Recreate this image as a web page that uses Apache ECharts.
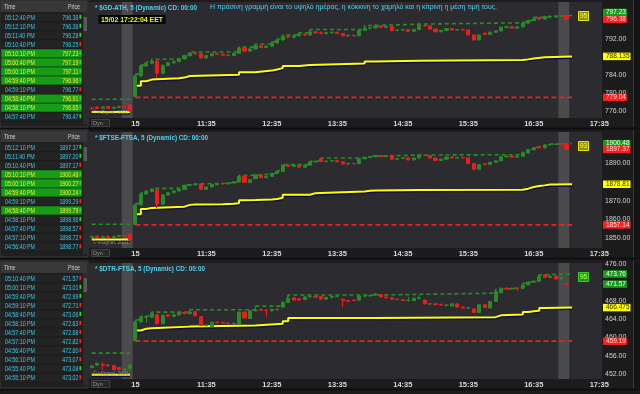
<!DOCTYPE html>
<html><head><meta charset="utf-8">
<script src="https://cdn.jsdelivr.net/npm/echarts@6/dist/echarts.min.js"></script>
<style>html,body{margin:0;padding:0;background:#1c1c1c;}#c{width:640px;height:394px;}</style>
</head><body><div id="c"></div>
<script>
// ---------- categories (5-minute bars) ----------
const catsPrev = ["14 16:30","14 16:35","14 16:40","14 16:45","14 16:50","14 16:55","14 17:00","14 17:05"];
const catsToday = [];
for (let m = 10*60+30; m <= 17*60+35; m += 5) catsToday.push(String(Math.floor(m/60)).padStart(2,'0')+':'+String(m%60).padStart(2,'0'));
const categories = catsPrev.concat(catsToday);
const xTickCats   = ["10:30","11:35","12:35","13:35","14:35","15:35","16:35","17:35"];
const xTickLabels = ["15","11:35","12:35","13:35","14:35","15:35","16:35","17:35"];
const bandSlots = ["14 17:00","14 17:05","17:00","17:05"];

// ---------- $GD-ATH : [open, high, low, close] ----------
const gdPrev = [[776.6,776.9,776.3,776.5],[776.9,777.0,776.4,776.6],[776.6,777.0,776.5,776.9],[777.0,777.1,776.5,776.6],[776.6,777.0,776.5,776.8],[776.8,777.2,776.6,777.0],[777.0,777.1,776.8,776.9],[777.3,777.4,775.8,776.0]];
const gdToday = [
[779.2,784.2,779.04,783.8],[783.8,786.2,783.6,786.0],[786.0,786.9,785.8,786.6],[786.6,787.5,786.4,787.1],[787.1,787.3,783.4,784.4],
[784.4,786.4,784.2,786.1],[786.1,786.9,785.9,786.7],[786.7,787.3,786.5,787.0],[787.0,787.8,786.8,787.6],[787.6,788.5,787.4,788.3],
[788.3,789.1,788.1,788.9],[788.9,789.0,788.5,788.7],[788.7,788.8,787.6,787.8],[787.8,788.5,787.7,788.3],[788.3,788.9,788.1,788.7],
[788.7,788.9,788.4,788.6],[788.6,788.8,788.3,788.4],[788.4,788.7,788.2,788.3],[788.3,788.9,788.2,788.8],[788.8,790.2,788.7,790.0],
[790.0,790.1,789.1,789.3],[789.3,790.0,789.2,789.8],[789.8,790.9,789.7,790.5],[790.5,790.7,790.0,790.1],[790.1,790.6,790.0,790.4],
[790.4,791.4,790.3,791.1],[791.1,792.0,791.0,791.8],[791.8,792.9,791.6,792.6],[792.6,792.8,792.1,792.4],[792.4,792.9,792.2,792.7],
[792.7,793.4,792.5,793.1],[793.1,793.3,792.7,792.9],[792.9,794.1,792.8,793.6],[793.6,793.9,793.2,793.4],[793.4,793.7,793.0,793.2],
[793.2,793.6,793.0,793.4],[793.4,793.7,793.2,793.5],[793.5,793.6,793.1,793.2],[793.2,793.4,792.6,792.7],[792.7,793.0,792.5,792.8],
[792.8,793.0,792.6,792.7],[792.7,794.0,792.6,793.9],[793.9,795.0,793.8,794.4],[794.4,794.7,794.1,794.5],[794.5,795.3,794.3,794.9],
[794.9,795.0,794.4,794.6],[794.6,795.0,794.5,794.8],[794.8,794.9,793.7,793.9],[793.9,794.2,793.7,794.0],[794.0,794.3,793.8,794.1],
[794.1,794.2,793.5,793.7],[793.7,794.3,793.6,794.1],[794.1,795.6,794.0,795.0],[795.0,795.2,794.7,794.9],[794.9,795.0,794.0,794.2],
[794.2,794.4,793.4,793.6],[793.6,794.0,793.5,793.9],[793.9,794.4,793.7,794.3],[794.3,794.5,793.9,794.0],[794.0,794.2,793.8,794.1],
[794.1,794.3,793.9,794.0],[794.0,794.1,792.8,792.9],[792.9,793.0,791.6,791.8],[791.8,793.0,791.7,792.9],[793.3,793.5,792.9,793.0],
[793.0,793.7,792.9,793.5],[793.5,793.9,793.4,793.8],[793.8,794.8,793.7,794.6],[794.6,794.9,794.4,794.7],[794.7,794.9,794.3,794.4],
[794.4,794.8,794.3,794.7],[794.7,795.9,794.6,795.5],[795.5,796.3,795.4,796.1],[796.1,796.8,796.0,796.5],[796.8,796.8,796.3,796.4],
[796.4,797.23,796.3,797.0],[797.0,797.2,796.8,797.1],[797.1,797.2,796.9,797.1],[797.1,797.2,797.0,797.2],[797.2,797.2,796.3,796.38]];
const gdHighSteps = [["10:30",784.2],["10:35",786.2],["10:40",786.9],["10:45",787.5],["11:10",787.8],["11:15",788.5],["11:20",789.1],["12:05",790.2],["12:20",790.9],["12:35",791.4],["12:40",792.0],["12:45",792.9],["13:00",793.4],["13:10",794.1],["14:00",795.0],["14:10",795.3],["14:50",795.6],["16:25",795.9],["16:30",796.3],["16:35",796.8],["16:45",797.23],["17:10",797.23]];
const gdMidSteps  = [["10:30",781.62],["10:35",782.62],["10:40",782.97],["10:45",783.27],["11:10",783.42],["11:15",783.77],["11:20",784.07],["12:05",784.62],["12:20",784.97],["12:35",785.22],["12:40",785.52],["12:45",785.97],["13:00",786.22],["13:10",786.57],["14:00",787.02],["14:10",787.17],["14:50",787.32],["16:25",787.47],["16:30",787.67],["16:35",787.92],["16:45",788.135],["17:10",788.135]];
const gdLowSteps  = [["10:30",779.04],["17:10",779.04]];
const gdPrevHighSteps = [["14 16:30",778.6],["14 17:05",778.6]];
const gdPrevMidSteps  = [["14 16:30",775.8],["14 17:05",775.8]];
const gdTags = [[797.23,"797.23","high"],[796.38,"796.38","lastDown"],[788.135,"788.135","mid"],[779.04,"779.04","low"]];
const gdAxisLabels = [776,780,784,792];

// ---------- $FTSE-FTSA ----------
const fsPrev = [[1850.5,1851.5,1850.0,1851.0],[1851.2,1851.6,1850.2,1850.5],[1850.5,1851.3,1850.2,1851.0],[1851.0,1851.5,1850.0,1850.3],[1850.3,1851.2,1850.0,1851.0],[1851.0,1851.8,1850.7,1851.5],[1851.5,1851.9,1851.0,1851.3],[1852.0,1852.2,1848.8,1849.2]];
const fsToday = [
[1857.4,1868.5,1857.14,1867.8],[1867.8,1874.2,1867.5,1873.6],[1873.6,1875.3,1873.2,1874.9],[1874.9,1876.6,1874.5,1876.1],[1875.8,1876.0,1866.0,1868.3],
[1868.3,1873.5,1867.8,1873.1],[1873.1,1874.6,1872.8,1874.3],[1874.3,1875.6,1874.0,1875.2],[1875.2,1876.4,1874.9,1876.0],[1876.0,1878.5,1875.8,1878.3],
[1878.3,1878.9,1877.8,1878.6],[1878.6,1879.0,1878.0,1878.9],[1879.0,1879.2,1875.9,1876.1],[1876.1,1877.6,1875.8,1877.4],[1877.4,1878.8,1877.2,1878.6],
[1878.6,1879.1,1878.3,1878.9],[1879.3,1879.5,1878.8,1879.0],[1879.0,1879.7,1878.8,1879.5],[1879.5,1880.3,1879.3,1880.1],[1880.1,1883.5,1879.9,1882.9],
[1883.2,1883.7,1879.5,1879.8],[1879.8,1881.6,1879.6,1881.2],[1881.8,1884.2,1881.5,1883.8],[1883.8,1884.0,1882.0,1882.3],[1882.3,1883.2,1882.0,1883.0],
[1883.0,1884.8,1882.8,1884.6],[1884.6,1886.0,1884.4,1885.7],[1885.7,1889.3,1885.5,1889.1],[1889.1,1889.3,1888.0,1888.3],[1888.3,1889.0,1888.0,1888.8],
[1888.8,1889.2,1887.6,1887.9],[1887.9,1889.2,1887.7,1889.0],[1889.0,1891.0,1888.8,1890.8],[1890.8,1891.3,1890.3,1891.0],[1892.4,1892.8,1890.7,1890.9],
[1890.9,1891.5,1890.6,1891.2],[1891.2,1891.8,1890.8,1891.5],[1891.5,1891.7,1890.6,1890.8],[1890.8,1891.0,1889.4,1889.6],[1889.6,1890.2,1889.3,1889.9],
[1889.9,1890.3,1889.5,1889.8],[1889.8,1892.6,1889.6,1892.4],[1892.4,1893.5,1892.2,1893.2],[1893.2,1893.8,1892.8,1893.5],[1893.5,1894.4,1893.2,1894.1],
[1894.1,1894.3,1893.3,1893.5],[1893.5,1894.2,1893.3,1894.0],[1894.0,1894.1,1891.9,1892.2],[1892.2,1892.8,1892.0,1892.6],[1892.6,1893.1,1892.3,1892.9],
[1892.9,1893.0,1891.6,1891.8],[1891.8,1893.0,1891.6,1892.8],[1892.8,1894.6,1892.6,1894.3],[1894.3,1894.6,1893.8,1894.1],[1894.1,1894.2,1892.6,1892.8],
[1892.8,1893.0,1891.2,1891.5],[1891.5,1892.4,1891.3,1892.2],[1892.2,1893.5,1892.0,1893.3],[1893.3,1893.6,1892.5,1892.8],[1892.8,1893.3,1892.5,1893.1],
[1893.1,1893.5,1892.7,1892.9],[1892.9,1893.0,1889.6,1889.9],[1889.9,1890.1,1886.4,1886.8],[1886.8,1889.5,1886.6,1889.3],[1889.8,1890.1,1889.0,1889.3],
[1889.3,1890.8,1889.1,1890.5],[1890.5,1891.5,1890.3,1891.3],[1891.3,1893.8,1891.1,1893.5],[1893.5,1894.2,1893.2,1893.9],[1893.9,1894.2,1893.0,1893.2],
[1893.2,1894.0,1893.0,1893.8],[1893.8,1895.8,1893.6,1895.5],[1895.5,1897.5,1895.3,1897.2],[1897.2,1898.6,1897.0,1898.3],[1899.0,1899.3,1897.9,1898.2],
[1898.2,1900.2,1898.0,1899.8],[1899.8,1900.3,1899.4,1900.1],[1900.1,1900.48,1899.7,1900.3],[1900.3,1900.4,1900.0,1900.27],[1900.3,1900.3,1897.1,1897.37]];
const fsHighSteps = [["10:30",1868.5],["10:35",1874.2],["10:40",1875.3],["10:45",1876.6],["11:15",1878.5],["11:20",1878.9],["11:25",1879.0],["11:30",1879.2],["11:50",1879.5],["11:55",1879.7],["12:00",1880.3],["12:05",1883.5],["12:10",1883.7],["12:20",1884.2],["12:35",1884.8],["12:40",1886.0],["12:45",1889.3],["13:10",1891.0],["13:15",1891.3],["13:20",1892.8],["14:00",1893.5],["14:05",1893.8],["14:10",1894.4],["14:50",1894.6],["16:25",1895.8],["16:30",1897.5],["16:35",1898.6],["16:40",1899.3],["16:45",1900.2],["16:50",1900.3],["16:55",1900.48],["17:10",1900.48]];
const fsMidSteps  = [["10:30",1862.82],["10:35",1865.67],["10:40",1866.22],["10:45",1866.87],["11:15",1867.82],["11:20",1868.02],["11:25",1868.07],["11:30",1868.17],["11:50",1868.32],["11:55",1868.42],["12:00",1868.72],["12:05",1870.32],["12:10",1870.42],["12:20",1870.67],["12:35",1870.97],["12:40",1871.57],["12:45",1873.22],["13:10",1874.07],["13:15",1874.22],["13:20",1874.97],["14:00",1875.32],["14:05",1875.47],["14:10",1875.77],["14:50",1875.87],["16:25",1876.47],["16:30",1877.32],["16:35",1877.87],["16:40",1878.22],["16:45",1878.67],["16:50",1878.72],["16:55",1878.81],["17:10",1878.81]];
const fsLowSteps  = [["10:30",1857.14],["17:10",1857.14]];
const fsPrevHighSteps = [["14 16:30",1857.5],["14 17:05",1857.5]];
const fsPrevMidSteps  = [["14 16:30",1849.4],["14 17:05",1849.4]];
const fsTags = [[1900.48,"1900.48","high"],[1897.37,"1897.37","lastDown"],[1878.81,"1878.81","mid"],[1857.14,"1857.14","low"]];
const fsAxisLabels = [1850,1860,1870,1890];

// ---------- $DTR-FTSA ----------
const dtPrev = [[453.5,454.0,453.3,453.8],[454.0,454.5,453.8,454.4],[454.2,454.6,453.0,454.0],[454.0,454.3,453.6,453.9],[453.9,454.0,452.8,453.0],[453.5,453.6,452.9,453.0],[453.0,453.3,452.8,453.1],[453.3,454.2,453.1,454.0]];
const dtToday = [
[459.3,463.8,459.19,463.4],[463.4,464.6,463.2,464.4],[464.4,464.8,463.2,464.5],[464.4,465.5,464.2,465.3],[464.9,465.0,462.6,463.0],
[463.0,465.0,462.9,464.8],[464.9,465.0,464.5,464.6],[464.6,465.2,464.4,464.9],[464.9,465.5,464.7,465.4],[465.4,465.5,465.0,465.2],
[465.2,466.0,465.0,465.5],[465.6,465.7,464.6,464.7],[464.5,464.6,462.5,462.6],[462.6,462.9,462.4,462.7],[462.3,463.4,462.2,463.3],
[463.3,463.5,463.0,463.2],[463.3,463.4,463.0,463.1],[463.1,463.3,462.9,463.0],[463.0,463.2,462.8,463.1],[462.8,465.6,462.7,465.5],
[465.5,465.7,464.1,464.2],[464.1,466.0,464.0,465.8],[465.8,466.8,465.6,465.9],[466.1,466.2,465.8,465.9],[465.9,466.2,464.5,465.8],
[465.8,466.3,465.6,466.1],[466.1,466.4,465.8,466.0],[466.6,467.8,466.4,467.6],[467.6,469.2,467.5,468.5],[468.6,468.7,468.0,468.1],
[468.4,468.5,467.9,468.1],[468.2,468.9,468.1,468.8],[468.8,469.1,468.6,468.9],[468.9,469.0,468.6,468.7],[468.9,469.0,468.2,468.3],
[468.3,468.8,468.2,468.7],[468.7,469.0,468.5,468.9],[468.9,469.1,468.7,468.9],[468.3,468.4,466.6,468.0],[468.0,468.1,467.7,467.8],
[468.1,468.2,467.9,468.0],[468.1,469.1,468.0,469.0],[469.0,469.2,468.7,469.0],[469.0,469.2,468.8,469.1],[469.2,469.6,469.0,469.4],
[469.3,469.4,468.7,468.8],[468.8,468.9,468.4,468.6],[468.6,468.7,468.2,468.3],[468.3,468.4,468.1,468.2],[468.2,468.3,467.9,468.0],
[468.0,468.8,467.8,468.1],[468.0,468.6,467.9,468.5],[468.5,469.1,468.3,468.6],[468.1,468.2,467.2,467.3],[467.3,467.5,467.1,467.3],
[467.3,467.4,467.0,467.1],[467.2,467.3,466.9,467.0],[467.0,467.2,466.8,467.0],[466.8,467.4,466.7,467.3],[467.3,467.4,466.5,466.6],
[466.6,466.7,466.3,466.4],[466.4,466.6,466.2,466.4],[466.2,466.3,465.3,465.4],[465.4,467.2,465.3,467.1],[467.1,467.2,466.4,466.5],
[466.4,467.9,466.3,467.8],[467.8,470.4,467.7,469.9],[469.7,470.8,469.6,470.7],[470.7,470.8,470.4,470.5],[470.5,470.8,470.4,470.7],
[470.7,470.8,470.0,470.6],[470.7,471.8,470.6,471.4],[471.4,472.2,471.3,472.0],[472.0,472.4,471.8,472.2],[472.2,473.6,472.1,473.2],
[473.6,473.76,472.9,473.0],[473.0,473.6,472.9,473.3],[473.3,473.4,472.6,472.7],[472.7,473.1,472.6,473.01],[471.57,471.6,471.55,471.57]];
const dtHighSteps = [["10:30",463.8],["10:35",464.6],["10:40",464.8],["10:45",465.5],["11:20",466.0],["12:20",466.8],["12:45",467.8],["12:50",469.2],["14:10",469.6],["16:00",470.4],["16:05",470.8],["16:25",471.8],["16:30",472.2],["16:35",472.4],["16:40",473.6],["16:45",473.76],["17:10",473.76]];
const dtMidSteps  = [["10:30",461.5],["10:35",461.9],["10:40",462.0],["10:45",462.35],["11:20",462.6],["12:20",463.0],["12:45",463.5],["12:50",464.2],["14:10",464.4],["16:00",464.8],["16:05",465.0],["16:25",465.5],["16:30",465.7],["16:35",465.8],["16:40",466.4],["16:45",466.475],["17:10",466.475]];
const dtLowSteps  = [["10:30",459.19],["17:10",459.19]];
const dtPrevHighSteps = [["14 16:30",456.6],["14 17:05",456.6]];
const dtPrevMidSteps  = [["14 16:30",451.9],["14 17:05",451.9]];
const dtTags = [[473.76,"473.76","high"],[471.57,"471.57","lastUp"],[466.475,"466.475","mid"],[459.19,"459.19","low"]];
const dtAxisLabels = [452,456,460,464,468,476];

// ---------- tick tables ----------
const t1Times  = ["05:12:40 PM","05:12:10 PM","05:11:40 PM","05:10:40 PM","05:10:10 PM","05:00:40 PM","05:00:10 PM","04:59:40 PM","04:59:10 PM","04:58:40 PM","04:58:10 PM","04:57:40 PM"];
const t1Prices = ["796.38","796.36","796.28","796.25","797.23","797.19","797.11","796.96","796.77","796.91","796.65","796.47"];
const t1Up     = [1,1,1,0,1,1,1,1,0,1,1,1];
const t1Hi     = [0,0,0,0,1,1,1,1,0,1,1,0];
const t2Times  = ["05:12:10 PM","05:11:40 PM","05:10:40 PM","05:10:10 PM","05:00:10 PM","04:59:40 PM","04:59:10 PM","04:58:40 PM","04:58:10 PM","04:57:40 PM","04:57:10 PM","04:56:40 PM"];
const t2Prices = ["1897.37","1897.20","1897.17","1900.48","1900.27","1900.24","1899.29","1899.79","1898.96","1898.57","1898.72","1898.77"];
const t2Up     = [1,1,0,1,1,1,0,1,1,0,0,0];
const t2Hi     = [0,0,0,1,1,1,0,1,0,0,0,0];
const t3Times  = ["05:10:40 PM","05:00:10 PM","04:59:40 PM","04:59:10 PM","04:58:40 PM","04:58:10 PM","04:57:40 PM","04:57:10 PM","04:56:40 PM","04:56:10 PM","04:55:40 PM","04:55:10 PM"];
const t3Prices = ["471.57","473.01","472.99","472.71","473.06","472.63","472.68","472.82","472.60","473.07","473.08","473.02"];
const t3Up     = [0,1,1,0,1,0,0,0,0,0,1,0];
const t3Hi     = [0,0,0,0,0,0,0,0,0,0,0,0];

const headers = ["* $GD-ATH, 5 (Dynamic) CD: 00:00","* $FTSE-FTSA, 5 (Dynamic) CD: 00:00","* $DTR-FTSA, 5 (Dynamic) CD: 00:00"];
const noteText = "Η πράσινη γραμμή είναι το υψηλό ημέρας, η κόκκινη το χαμηλό και η κίτρινη η μέση τιμή τους.";
const clockText = "15/02 17:22:04 EET";
const badges = ["95","93","95"];

// ---------- layout / style ----------
const PANEL_TOPS = [0, 130, 261];
const GRID_LEFT = 89, GRID_W = 513, GRID_H = 116;
const FONT = "'Liberation Sans', Arial, sans-serif";
const TAG_STYLE = {
  high:     {backgroundColor:'#1e9a1e', color:'#e8ffe8'},
  lastUp:   {backgroundColor:'#1e9a1e', color:'#e8ffe8'},
  lastDown: {backgroundColor:'#ff1c1c', color:'#ffe0e0'},
  mid:      {backgroundColor:'#ffff00', color:'#303000'},
  low:      {backgroundColor:'#ff1c1c', color:'#ffe0e0'}
};
// panel 1: the platform lifts the high tag so it does not hide under the last-price tag
const TAG_NUDGE = [{high:[0,-3]}, {}, {}];

const panels = [
  {prev:gdPrev, today:gdToday, hi:gdHighSteps, mid:gdMidSteps, lo:gdLowSteps, pHi:gdPrevHighSteps, pMid:gdPrevMidSteps, tags:gdTags, labels:gdAxisLabels, yMin:774.44, yMax:800.22,
   tTimes:t1Times, tPrices:t1Prices, tUp:t1Up, tHi:t1Hi},
  {prev:fsPrev, today:fsToday, hi:fsHighSteps, mid:fsMidSteps, lo:fsLowSteps, pHi:fsPrevHighSteps, pMid:fsPrevMidSteps, tags:fsTags, labels:fsAxisLabels, yMin:1844.82, yMax:1906.69,
   tTimes:t2Times, tPrices:t2Prices, tUp:t2Up, tHi:t2Hi},
  {prev:dtPrev, today:dtToday, hi:dtHighSteps, mid:dtMidSteps, lo:dtLowSteps, pHi:dtPrevHighSteps, pMid:dtPrevMidSteps, tags:dtTags, labels:dtAxisLabels, yMin:450.99, yMax:476.15,
   tTimes:t3Times, tPrices:t3Prices, tUp:t3Up, tHi:t3Hi}
];

function stepData(steps){ return steps.map(s => [categories.indexOf(s[0]), s[1]]); }
function candleData(prev, today){ return prev.concat(today).map(d => [d[0], d[3], d[2], d[1]]); }

const mctx = document.createElement('canvas').getContext('2d');
function fitScale(text, size, weight, target){ mctx.font = weight+' '+size+'px '+FONT; return target / mctx.measureText(text).width; }

const YELLOW = {color:'#ffff00', width:2, shadowColor:'#0c0c58', shadowOffsetY:1.5, shadowBlur:0.5};
const series = [];
const grids = [], xAxes = [], yAxes = [];
panels.forEach((p, i) => {
  const top = PANEL_TOPS[i];
  grids.push({left:GRID_LEFT, top:top+2, width:GRID_W, height:GRID_H, show:true, backgroundColor:'#2c2c30', borderWidth:0});
  xAxes.push({type:'category', gridIndex:i, data:categories, boundaryGap:true,
    axisLine:{show:false}, axisTick:{show:false}, splitLine:{show:false},
    axisLabel:{interval:(idx,val)=>xTickCats.indexOf(val)>=0, formatter:v=>xTickLabels[xTickCats.indexOf(v)],
      color:'#d6d6d6', fontSize:7.5, fontFamily:FONT, fontWeight:'bold', margin:2}});
  yAxes.push({type:'value', gridIndex:i, position:'right', min:p.yMin, max:p.yMax,
    axisLine:{show:false}, axisTick:{show:false}, splitLine:{show:false},
    axisLabel:{customValues:p.labels, formatter:v=>v.toFixed(2), color:'#d0d0d0', fontSize:7, fontFamily:FONT, margin:3}});
  const ax = {xAxisIndex:i, yAxisIndex:i};
  series.push(Object.assign({type:'bar', silent:true, barWidth:'100%', z:1,
    data:categories.map(c => bandSlots.indexOf(c)>=0 ? p.yMax : '-'),
    itemStyle:{color:'rgba(150,150,150,0.30)'}}, ax));
  series.push(Object.assign({type:'line', step:'end', symbol:'none', silent:true, z:3, data:stepData(p.pHi),
    lineStyle:{color:'#239023', width:1.6, type:[4,3]}}, ax));
  series.push(Object.assign({type:'line', step:'end', symbol:'none', silent:true, z:3, data:stepData(p.pMid),
    lineStyle:YELLOW}, ax));
  series.push(Object.assign({type:'line', step:'end', symbol:'none', silent:true, z:3, data:stepData(p.hi),
    lineStyle:{color:'#239023', width:1.6, type:[4,3]}}, ax));
  series.push(Object.assign({type:'line', step:'end', symbol:'none', silent:true, z:3, data:stepData(p.mid),
    lineStyle:YELLOW}, ax));
  series.push(Object.assign({type:'candlestick', silent:true, z:4, barWidth:3.6, data:candleData(p.prev, p.today),
    itemStyle:{color:'#2a8a2a', color0:'#ee1c1c', borderColor:'#2a8a2a', borderColor0:'#ee1c1c', borderWidth:1}}, ax));
  // low line carries the price tags (not clipped so the tags can sit on the price scale)
  series.push(Object.assign({type:'line', step:'end', symbol:'none', silent:true, z:5, clip:false, data:stepData(p.lo),
    lineStyle:{color:'#ee2020', width:1.8, type:[5,3]},
    markLine:{silent:true, symbol:['none','none'], animation:false, precision:3,
      lineStyle:{color:'rgba(0,0,0,0)', width:1, type:'solid'},
      data:p.tags.map(t => ({yAxis:t[0], lineStyle:{color:'rgba(0,0,0,0)'},
        label:Object.assign({show:true, position:'end', formatter:t[1], fontSize:6.5, fontFamily:FONT,
        padding:[1,1,0,3], distance:1, lineHeight:6.5, opacity:1, offset:TAG_NUDGE[i][t[2]] || [0,0]}, TAG_STYLE[t[2]])}))}}, ax));
});

// ---------- graphic decorations: tables, headers ----------
const g = [];
const tScale = fitScale("05:12:40 PM", 7.5, 'normal', 30);
panels.forEach((p, i) => {
  const T = PANEL_TOPS[i];
  g.push({type:'rect', shape:{x:0, y:T, width:88, height:127}, style:{fill:'#202020', stroke:'#3a3a3a', lineWidth:1}, z:50});
  g.push({type:'rect', shape:{x:1, y:T+1, width:86, height:11}, style:{fill:'#38383a'}, z:51});
  g.push({type:'text', x:4, y:T+7, style:{text:'Time', fill:'#cfcfcf', font:'7.5px '+FONT, verticalAlign:'middle'}, scaleX:tScale, z:52});
  g.push({type:'text', x:80, y:T+7, style:{text:'Price', fill:'#cfcfcf', font:'7.5px '+FONT, verticalAlign:'middle', align:'right'}, scaleX:tScale, z:52});
  p.tTimes.forEach((tm, r) => {
    const cy = T + 17.3 + 9.04*r;
    const hi = p.tHi[r] === 1;
    g.push({type:'rect', shape:{x:1, y:cy-4.5, width:81, height:9}, style:{fill: hi ? '#169c16' : '#232323', stroke:'#1a1a1a', lineWidth:0.5}, z:51});
    const col = hi ? '#f0f040' : '#3cc6e6';
    g.push({type:'text', x:5, y:cy+0.5, style:{text:tm, fill:col, font:'7.5px '+FONT, verticalAlign:'middle'}, scaleX:tScale, z:52});
    g.push({type:'text', x:78.5, y:cy+0.5, style:{text:p.tPrices[r], fill:col, font:'7.5px '+FONT, verticalAlign:'middle', align:'right'}, scaleX:tScale, z:52});
    g.push({type:'rect', shape:{x:79.5, y:cy-2.5, width:1.6, height:4}, style:{fill: p.tUp[r] ? '#22e022' : '#ff2222'}, z:53});
  });
  g.push({type:'rect', shape:{x:83, y:T+12, width:4.5, height:112}, style:{fill:'#2c2c2c'}, z:52});
  g.push({type:'rect', shape:{x:83.5, y:T+17, width:3.5, height:14}, style:{fill:'#5a5a5a'}, z:53});
  g.push({type:'rect', shape:{x:0, y:T+127.5, width:640, height:2}, style:{fill:'#0e0e0e'}, z:40});
  g.push({type:'rect', shape:{x:633.5, y:T, width:6.5, height:128}, style:{fill:'#141414'}, z:40});
  g.push({type:'line', shape:{x1:633.5, y1:T, x2:633.5, y2:T+127}, style:{stroke:'#3a3a3a', lineWidth:1}, z:41});
  const hs = fitScale(headers[i], 7.5, 'bold', i===0 ? 102 : (i===1 ? 113 : 110));
  g.push({type:'text', x:95, y:T+7.5, style:{text:headers[i], fill:'#4fd0ee', font:'bold 7.5px '+FONT, verticalAlign:'middle'}, scaleX:hs, z:60});
  const green = i === 2;
  g.push({type:'rect', shape:{x:578.5, y:T+11.5, width:10, height:9}, style:{fill: green ? '#139c13' : '#8e8e00', stroke: green ? '#2fd02f' : '#e6e600', lineWidth:1}, z:60});
  g.push({type:'text', x:583.5, y:T+16.3, style:{text:badges[i], fill: green ? '#d8ff50' : '#ffff70', font:'6.5px '+FONT, align:'center', verticalAlign:'middle'}, z:61});
  g.push({type:'text', x:93, y:T+113, style:{text:'© eSignal, 2021', fill:'#8a8a8a', font:'5px '+FONT, verticalAlign:'middle'}, z:60});
  g.push({type:'rect', shape:{x:91.5, y:T+119.5, width:18, height:7}, style:{fill:'#262626', stroke:'#4a4a4a', lineWidth:0.8}, z:60});
  g.push({type:'text', x:93, y:T+123, style:{text:'Dyn', fill:'#9a9a9a', font:'5.5px '+FONT, verticalAlign:'middle'}, z:61});
});
const ns = fitScale(noteText, 7, 'normal', 287);
g.push({type:'text', x:210, y:7, style:{text:noteText, fill:'#4fd0ee', font:'7px '+FONT, verticalAlign:'middle'}, scaleX:ns, z:60});
g.push({type:'rect', shape:{x:98.5, y:15, width:67, height:9}, style:{fill:'#050505'}, z:60});
const cs = fitScale(clockText, 7.5, 'bold', 62);
g.push({type:'text', x:101, y:19.7, style:{text:clockText, fill:'#f4f400', font:'bold 7.5px '+FONT, verticalAlign:'middle'}, scaleX:cs, z:61});

const chart = echarts.init(document.getElementById('c'), null, {renderer:'canvas'});
chart.setOption({
  backgroundColor:'#1c1c1c', animation:false,
  grid:grids, xAxis:xAxes, yAxis:yAxes, series:series,
  graphic:{elements:g}
});
</script></body></html>
